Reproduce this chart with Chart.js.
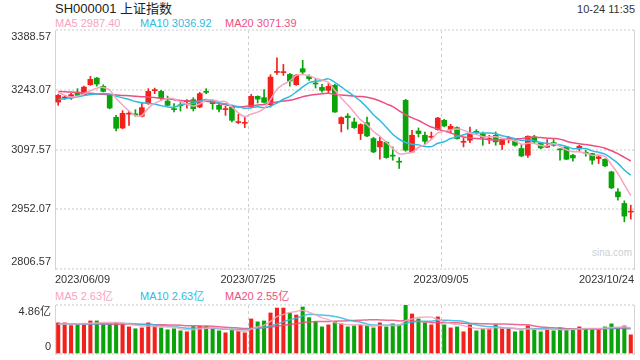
<!DOCTYPE html>
<html><head><meta charset="utf-8">
<script src="https://cdn.jsdelivr.net/npm/chart.js"></script>
<style>
html,body{margin:0;padding:0;background:#fff;width:640px;height:360px;overflow:hidden;font-family:"Liberation Sans",Arial,"Noto Sans CJK SC",sans-serif;}
.t{position:absolute;white-space:nowrap;line-height:1;}
#c1{position:absolute;left:0;top:0;}
#c2{position:absolute;left:0;top:292px;}
</style></head><body>
<div class="t" style="left:55px;top:2px;font-size:13px;color:#222">SH000001 上证指数</div>
<div class="t" style="right:5px;top:4px;font-size:11px;color:#333">10-24 11:35</div>
<div class="t" style="left:55px;top:18px;font-size:11px;color:#f7a3c1">MA5 2987.40</div>
<div class="t" style="left:140px;top:18px;font-size:11px;color:#2fbbe0">MA10 3036.92</div>
<div class="t" style="left:225px;top:18px;font-size:11px;color:#ec4f7f">MA20 3071.39</div>
<div class="t" style="left:592px;top:248px;font-size:10px;color:#cfcfcf">sina.com</div>
<div class="t" style="left:55px;top:291px;font-size:11px;color:#f7a3c1">MA5 2.63亿</div>
<div class="t" style="left:140px;top:291px;font-size:11px;color:#2fbbe0">MA10 2.63亿</div>
<div class="t" style="left:225px;top:291px;font-size:11px;color:#ec4f7f">MA20 2.55亿</div>
<canvas id="c1" width="640" height="292"></canvas>
<canvas id="c2" width="640" height="68"></canvas>
<script>
// ---- data ----
const dateLabels = ['2023/06/09', '2023/07/25', '2023/09/05', '2023/10/24'];
const dateTickPos = [-0.5, 29.5, 59.5, 89.5];
const priceTicks = [2806.57, 2952.07, 3097.57, 3243.07, 3388.57];
const volTicks = [0, 4.86];

const opens = [3213.1,3223.0,3222.9,3237.4,3231.1,3255.4,3271.4,3251.3,3229.4,3176.0,
3149.9,3183.7,3184.4,3178.4,3209.2,3240.8,3239.1,3215.6,3196.1,3206.3,
3214.1,3219.0,3201.0,3237.9,3215.6,3205.1,3194.7,3200.3,3163.1,3161.4,
3201.0,3227.0,3223.8,3206.8,3285.3,3284.8,3280.4,3255.4,3294.3,3275.6,
3258.6,3248.8,3241.6,3253.7,3160.6,3179.1,3164.5,3136.4,3163.1,3124.2,
3103.8,3115.2,3082.9,3068.1,3217.3,3091.6,3142.6,3132.2,3127.3,3146.1,
3168.6,3146.1,3150.9,3115.2,3120.1,3141.0,3136.4,3121.8,3132.2,3109.6,
3123.5,3118.3,3099.9,3083.6,3128.1,3113.5,3103.1,3114.5,3098.2,3103.8,
3083.6,3099.9,3090.0,3087.7,3075.6,3073.9,3043.0,2994.4,2966.2,2945.1];
const highs = [3231.8,3227.5,3234.3,3245.7,3252.0,3275.6,3273.2,3255.0,3231.8,3180.8,
3192.2,3190.5,3194.7,3210.7,3245.7,3247.2,3241.6,3227.7,3209.2,3213.1,
3219.0,3223.8,3236.7,3245.7,3218.5,3207.5,3202.7,3202.7,3183.2,3176.7,
3231.8,3228.2,3243.3,3279.7,3321.0,3304.8,3282.9,3280.4,3314.5,3279.2,
3270.0,3256.2,3257.8,3256.2,3177.2,3185.0,3174.2,3160.2,3176.7,3127.3,
3127.3,3117.6,3103.8,3078.0,3219.7,3144.4,3150.0,3140.2,3140.2,3176.0,
3171.1,3159.0,3152.9,3125.6,3152.4,3146.1,3140.2,3132.2,3140.2,3122.5,
3129.8,3121.3,3110.3,3131.0,3132.2,3115.2,3121.8,3121.8,3099.9,3105.5,
3086.0,3107.9,3095.8,3088.5,3082.4,3075.1,3044.7,3002.7,2972.6,2962.1];
const lows = [3205.1,3219.5,3219.7,3227.0,3229.4,3253.7,3252.0,3237.9,3196.6,3142.7,
3148.0,3156.5,3178.4,3177.2,3207.5,3233.5,3217.3,3203.9,3188.8,3191.3,
3198.5,3191.3,3199.0,3233.5,3195.4,3188.8,3180.8,3164.5,3160.6,3150.9,
3199.0,3210.7,3211.2,3201.0,3280.4,3278.0,3252.0,3253.7,3282.1,3265.9,
3247.2,3237.4,3233.5,3188.1,3140.2,3146.8,3149.2,3121.8,3128.6,3089.7,
3073.9,3076.3,3071.5,3051.3,3093.3,3089.7,3128.1,3112.0,3121.8,3144.4,
3152.9,3137.8,3122.5,3103.8,3114.5,3134.6,3107.9,3112.0,3107.9,3097.5,
3113.5,3105.5,3080.0,3078.0,3114.0,3099.4,3102.3,3105.5,3071.5,3072.7,
3069.0,3094.0,3081.2,3061.7,3063.4,3055.7,3002.2,2974.3,2921.5,2928.1];
const closes = [3229.4,3224.5,3231.1,3229.4,3249.6,3268.3,3256.9,3239.1,3198.5,3149.2,
3185.7,3185.7,3182.0,3199.5,3239.1,3242.3,3222.9,3205.1,3194.7,3203.9,
3215.6,3197.1,3233.5,3236.7,3209.2,3195.4,3196.1,3168.6,3164.5,3163.1,
3227.0,3220.4,3212.4,3273.9,3287.0,3286.5,3264.2,3278.0,3286.0,3270.0,
3257.1,3241.6,3251.3,3188.8,3175.2,3175.2,3150.9,3158.2,3130.5,3091.6,
3117.6,3078.0,3081.4,3066.6,3095.8,3132.2,3136.4,3117.6,3128.8,3174.2,
3154.8,3154.1,3124.2,3116.7,3136.4,3139.5,3126.6,3123.2,3116.0,3120.1,
3124.9,3107.9,3081.9,3129.8,3115.9,3101.4,3104.5,3107.9,3096.7,3073.9,
3077.0,3105.5,3088.5,3071.5,3079.5,3057.6,3004.1,2982.3,2935.4,2946.6];
const volumes = [3.09,3.09,2.82,2.96,3.05,3.28,3.28,2.99,2.99,3.12,
2.99,2.69,2.50,2.59,3.09,2.76,2.59,2.40,2.50,2.30,
2.20,2.73,2.76,2.73,2.53,2.30,2.10,2.43,2.23,2.10,
3.48,3.19,3.28,4.07,4.56,4.56,4.07,3.87,4.66,3.61,
3.19,2.69,2.89,3.19,2.99,2.69,2.79,2.89,2.82,2.59,
3.09,2.69,2.99,2.89,4.86,3.97,3.48,3.09,2.89,3.68,
2.89,2.59,2.69,2.20,2.89,2.30,2.50,2.50,2.89,2.59,
2.50,2.20,2.30,2.79,2.50,2.20,2.50,2.30,2.59,2.40,
2.50,2.69,2.50,2.50,2.50,2.69,2.99,2.59,2.79,1.90];
// moving-average values at the left edge (earlier days are not shown)
const ma5Lead = [3237.0,3229.5,3225.5,3227.5];
const ma10Lead = [3219.5,3221.0,3223.5,3226.0,3229.0,3231.5,3233.0,3234.0,3233.0];
const ma20Lead = [3239.0,3238.5,3237.5,3236.0,3235.5,3234.5,3233.0,3232.0,3231.5,3230.0,3229.0,3228.5,3227.0,3226.0,3225.5,3224.0,3222.5,3221.0,3219.0];
const vma5Lead = [2.96,2.97,2.98,2.99];
const vma10Lead = [2.95,2.95,2.96,2.97,2.97,2.98,2.99,3.00,3.01];
const vma20Lead = [2.97,2.97,2.97,2.97,2.97,2.97,2.97,2.96,2.96,2.96,2.95,2.95,2.94,2.93,2.92,2.91,2.90,2.88,2.87];

// ---- styles ----
const RED = '#f2211b', GREEN = '#0aa30a';
const C_MA5 = '#f7a3c1', C_MA10 = '#2fbbe0', C_MA20 = '#ec4f7f';
const FONT = '"Liberation Sans", Arial, "Noto Sans CJK SC", sans-serif';
Chart.defaults.font.family = FONT;
Chart.defaults.font.size = 11;
Chart.defaults.color = '#333';

function movingAverage(values, n, lead) {
  return values.map((_, i) => {
    if (i < n - 1) return lead[i];
    let s = 0;
    for (let k = i - n + 1; k <= i; k++) s += values[k];
    return s / n;
  });
}
const idx = closes.map((_, i) => i);
const candleColors = idx.map(i => closes[i] >= opens[i] ? RED : GREEN);
const pts = arr => arr.map((v, i) => ({x: i, y: v}));
const lineDS = (data, color, order, width) => ({
  type: 'line', data: pts(data), borderColor: color, borderWidth: width,
  pointRadius: 0, tension: 0.3, order, fill: false
});

function xAxis(showLabels) {
  return {
    type: 'linear', min: -0.5, max: 89.5, offset: false,
    afterBuildTicks: s => { s.ticks = dateTickPos.map(v => ({value: v})); },
    afterFit: s => { s.height = showLabels ? 23 : 0; s.paddingLeft = 0; s.paddingRight = 0; },
    ticks: {display: showLabels, align: 'inner', padding: 4, maxRotation: 0, autoSkip: false,
            color: '#333', callback: (v, i) => dateLabels[i]},
    grid: {drawTicks: false, offset: false, lineWidth: 1,
           color: c => (c.index === 1 || c.index === 2) ? '#cfcfcf' : 'rgba(0,0,0,0)'},
    border: {display: false, dash: [3, 3]}
  };
}
function yAxis(min, max, tickVals, fmt) {
  return {
    position: 'left', min, max,
    afterBuildTicks: s => { s.ticks = tickVals.map(v => ({value: v})); },
    afterFit: s => { s.width = 55; s.paddingTop = 0; s.paddingBottom = 0; },
    ticks: {padding: 4, color: '#333', autoSkip: false,
      callback: (v, i, t) => {
        const s = fmt(v);
        if (i === 0) return [s, ''];
        if (i === t.length - 1) return ['', s];
        return s;
      }},
    grid: {drawTicks: false, color: '#e4e4e4', lineWidth: 2},
    border: {display: true, color: '#d4d4d4', width: 1, dash: [2, 2]}
  };
}
const rightBorder = {
  position: 'right', display: true,
  afterFit: s => { s.width = 6; s.paddingTop = 0; s.paddingBottom = 0; },
  ticks: {display: false}, grid: {display: false, drawTicks: false},
  border: {display: true, color: '#d4d4d4', width: 1}
};

new Chart(document.getElementById('c1'), {
  type: 'bar',
  data: {datasets: [
    {data: idx.map(i => ({x: i, y: [lows[i], highs[i]]})), backgroundColor: candleColors,
     barThickness: 1, grouped: false, order: 5},
    {data: idx.map(i => ({x: i, y: [opens[i], closes[i]]})), backgroundColor: candleColors,
     barThickness: 5, minBarLength: 1, grouped: false, order: 4},
    lineDS(movingAverage(closes, 20, ma20Lead), C_MA20, 3, 1.5),
    lineDS(movingAverage(closes, 10, ma10Lead), C_MA10, 2, 1.5),
    lineDS(movingAverage(closes, 5, ma5Lead), C_MA5, 1, 1.5)
  ]},
  options: {
    responsive: false, animation: false, events: [],
    layout: {padding: {top: 30, left: 0, right: 0, bottom: 0}},
    plugins: {legend: {display: false}, tooltip: {enabled: false}},
    scales: {
      x: xAxis(true),
      y: yAxis(priceTicks[0], priceTicks[priceTicks.length - 1], priceTicks, v => v.toFixed(2)),
      yR: rightBorder
    }
  }
});

new Chart(document.getElementById('c2'), {
  type: 'bar',
  data: {datasets: [
    {data: idx.map(i => ({x: i, y: volumes[i]})), backgroundColor: candleColors,
     barThickness: 3.4, grouped: false, order: 4},
    lineDS(movingAverage(volumes, 20, vma20Lead), 'rgba(236,79,127,0.85)', 3, 1.5),
    lineDS(movingAverage(volumes, 10, vma10Lead), 'rgba(47,187,224,0.85)', 2, 1.5),
    lineDS(movingAverage(volumes, 5, vma5Lead), 'rgba(247,163,193,0.85)', 1, 1.5)
  ]},
  options: {
    responsive: false, animation: false, events: [],
    layout: {padding: {top: 13, left: 0, right: 0, bottom: 6}},
    plugins: {legend: {display: false}, tooltip: {enabled: false}},
    scales: {
      x: xAxis(false),
      y: yAxis(volTicks[0], volTicks[1], volTicks, v => v === 0 ? '0' : v.toFixed(2) + '亿'),
      yR: rightBorder
    }
  }
});
</script>
</body></html>
